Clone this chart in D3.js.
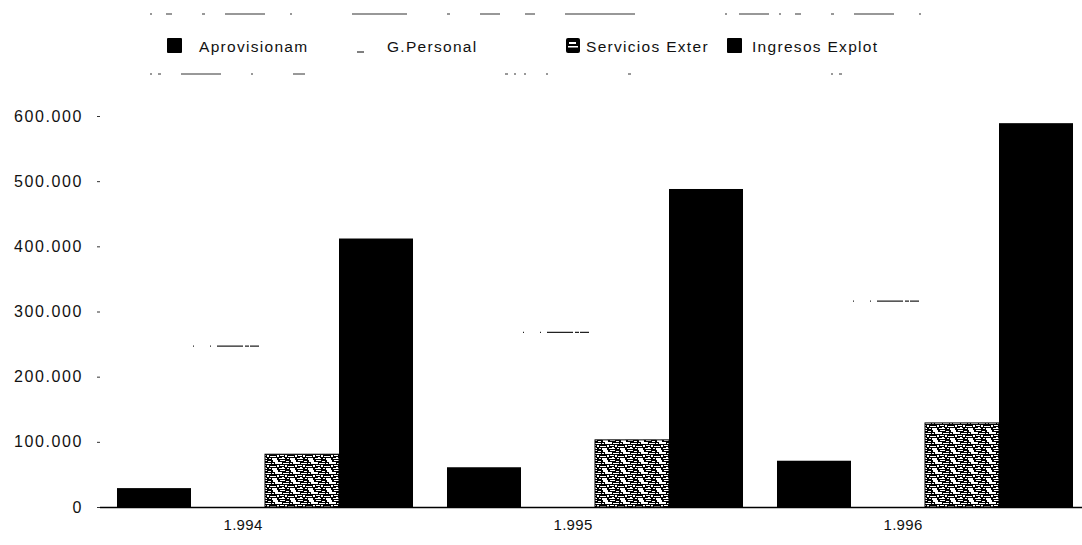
<!DOCTYPE html>
<html><head><meta charset="utf-8">
<script src="https://cdn.jsdelivr.net/npm/d3@7"></script>
<style>body{margin:0;background:#fff}svg{display:block}text{font-family:"Liberation Sans",Arial,sans-serif;fill:#111}</style>
</head><body>
<svg id="c" width="1082" height="545"></svg>
<script>
const years = ["1.994","1.995","1.996"];
const seriesNames = ["Aprovisionam","G.Personal","Servicios Exter","Ingresos Explot"];
const aprovisionam = [29000, 61000, 71000];
const gPersonal = [247000, 268000, 316000];
const serviciosExter = [81000, 103000, 129000];
const ingresosExplot = [412000, 488000, 589000];
const yTicks = [0,100000,200000,300000,400000,500000,600000];
const yTickLabels = ["0","100.000","200.000","300.000","400.000","500.000","600.000"];

const seriesValues = [aprovisionam, gPersonal, serviciosExter, ingresosExplot];
const svg = d3.select("#c");
const defs = svg.append("defs");
const pat = defs.append("pattern").attr("id","noise").attr("patternUnits","userSpaceOnUse")
  .attr("width",18).attr("height",10);
pat.append("rect").attr("width",18).attr("height",10).attr("fill","#000");
[[1,0,5,1],[7,1,3,1],[12,0,5,2],[0,2,3,2],[4,3,6,1],[11,3,2,1],[14,2,4,2],[1,5,4,1],[6,5,2,2],[9,6,6,1],[16,5,2,2],
 [0,8,6,1],[8,8,2,1],[11,8,5,2],[3,7,2,1],[7,3,1,1]]
  .forEach(r=>pat.append("rect").attr("x",r[0]).attr("y",r[1]).attr("width",r[2]).attr("height",r[3]).attr("fill","#fff"));

const y = d3.scaleLinear().domain([0,600000]).range([507,116]);
const x0 = d3.scaleBand().domain(years).range([100,1090]).paddingInner(0.103).paddingOuter(0.0515);
const x1 = d3.scaleBand().domain(seriesNames).range([0,x0.bandwidth()]);

const fills = ["#000","#fff","url(#noise)","#000"];

// legend frame remnants (faded scan)
svg.append("line").attr("x1",150).attr("x2",930).attr("y1",14).attr("y2",14)
  .attr("stroke","#333").attr("stroke-width",1.2).attr("stroke-dasharray","2,14,6,30,3,20,40,25,2,60,55,40,3,30,20,25,10,30,70,90,2,12,30,10");
svg.append("line").attr("x1",150).attr("x2",860).attr("y1",74).attr("y2",74)
  .attr("stroke","#333").attr("stroke-width",1).attr("stroke-dasharray","2,6,3,20,40,30,2,40,12,200,3,6,2,8,2,20,2,80,3,200");

// legend
const legX = [167, 358, 566, 727];
const legT = [199, 387, 586, 752];
const lg = svg.append("g");
seriesNames.forEach((s,i)=>{
  if(i===1){
    lg.append("line").attr("x1",357).attr("x2",364).attr("y1",52).attr("y2",52).attr("stroke","#000");
  } else if(i===2){
    lg.append("rect").attr("x",legX[i]).attr("y",38).attr("width",14).attr("height",15).attr("rx",2).attr("fill","#000");
    lg.append("rect").attr("x",legX[i]+3).attr("y",42).attr("width",7).attr("height",2).attr("fill","#fff");
    lg.append("rect").attr("x",legX[i]+2).attr("y",46).attr("width",10).attr("height",1.5).attr("fill","#fff");
  } else {
    lg.append("rect").attr("x",legX[i]).attr("y",38).attr("width",15).attr("height",15).attr("rx",1).attr("fill","#000");
  }
  lg.append("text").attr("x",legT[i]).attr("y",52).attr("font-size",15.5).attr("letter-spacing","1.3px").text(s);
});

// bars
const groups = svg.append("g").selectAll("g").data(years).join("g")
  .attr("transform",d=>`translate(${x0(d)},0)`);
groups.selectAll("rect").data((d,gi)=>seriesNames.map((s,si)=>({s,si,v:seriesValues[si][gi]})))
  .join("rect")
  .attr("x",d=>x1(d.s)).attr("width",x1.bandwidth())
  .attr("y",d=>y(d.v)).attr("height",d=>y(0)-y(d.v))
  .attr("fill",d=>fills[d.si])
  .attr("stroke",d=>d.si===2?"#000":"none").attr("stroke-width",1);
groups.selectAll("line.gp").data((d,gi)=>[gPersonal[gi]]).join("line").attr("class","gp")
  .attr("x1",x1("G.Personal")+2).attr("x2",x1("G.Personal")+x1.bandwidth()-6)
  .attr("y1",d=>y(d)).attr("y2",d=>y(d))
  .attr("stroke","#222").attr("stroke-width",1.3).attr("stroke-dasharray","1,16,1,6,26,2,4,1,18");

// x axis
const xa = svg.append("g").attr("transform","translate(0,507)")
  .call(d3.axisBottom(x0).tickSize(0).tickPadding(12));
xa.select(".domain").attr("d","M100,0.5H1082").attr("stroke","#000").attr("stroke-width",1.3);
xa.selectAll("text").attr("font-size",15).attr("dx",-22).attr("letter-spacing","0.3px").attr("fill","#111")
  .attr("font-family","'Liberation Sans',Arial,sans-serif");

// y axis
const ya = svg.append("g").attr("transform","translate(100,0)")
  .call(d3.axisLeft(y).tickValues(yTicks).tickFormat((d,i)=>yTickLabels[i]).tickSize(3).tickPadding(14));
ya.select(".domain").remove();
ya.selectAll("text").attr("font-size",16).attr("letter-spacing","1.6px").attr("fill","#111")
  .attr("font-family","'Liberation Sans',Arial,sans-serif");
ya.selectAll("line").attr("stroke","#333");
</script>
</body></html>
